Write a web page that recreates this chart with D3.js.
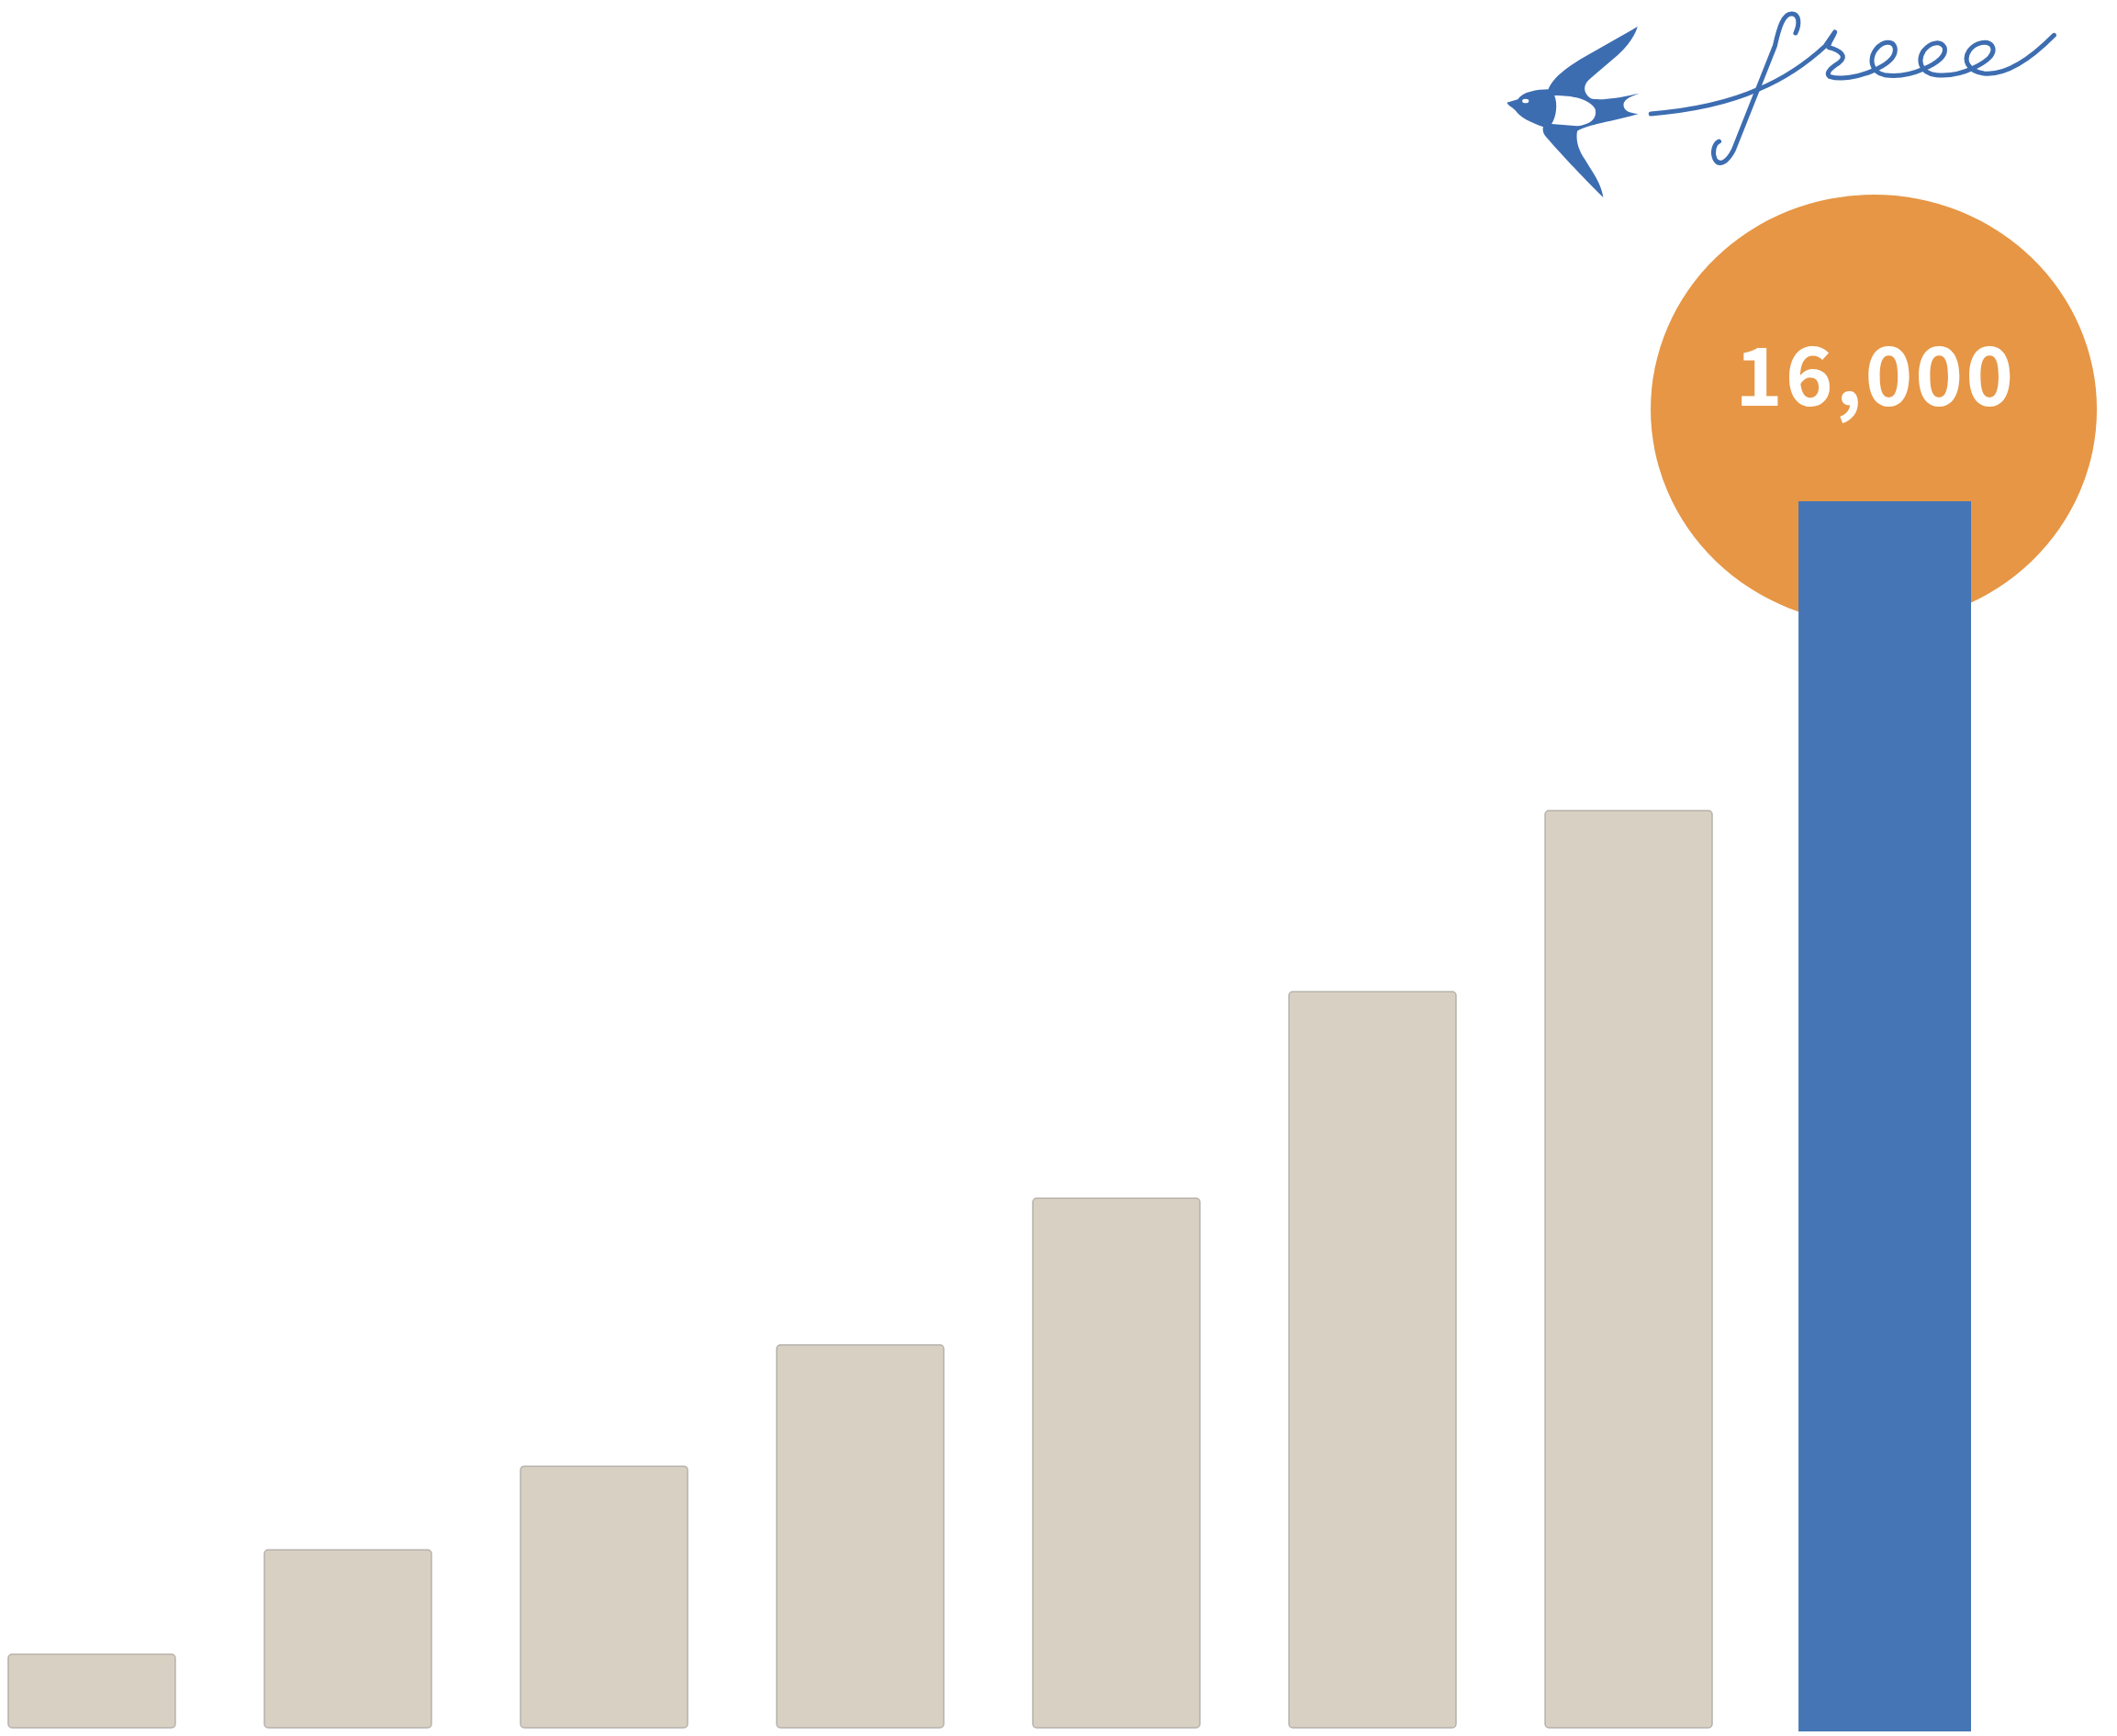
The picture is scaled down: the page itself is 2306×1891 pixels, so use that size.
<!DOCTYPE html>
<html>
<head>
<meta charset="utf-8">
<script src="https://cdn.jsdelivr.net/npm/d3@7"></script>
<style>
  html, body { margin: 0; padding: 0; background: #fff; }
  svg { display: block; }
</style>
</head>
<body>
<svg class="chart"></svg>
<script>
// DATA /////////////////////////////////////////
const categories = ["1", "2", "3", "4", "5", "6", "7", "8"];
const values = [980, 2340, 3430, 5010, 6920, 9610, 11970, 16000];
const highlightLabel = "16,000";

// DEFINITIONS //////////////////////////////////
const width = 2306;
const height = 1891;

const svg = d3.select(".chart").attr("width", width).attr("height", height);

const x = d3
  .scaleBand()
  .domain(categories)
  .range([9, 2144])
  .paddingInner(0.348)
  .paddingOuter(0);

const y = d3.scaleLinear().domain([0, 16000]).range([1884, 546]);

const last = categories[categories.length - 1];

// HIGHLIGHT BUBBLE (behind the last bar) ///////
const cx = x(last) + x.bandwidth() / 2 - 12;
const cy = y(values[values.length - 1]) - 100;

svg
  .append("ellipse")
  .attr("cx", cx)
  .attr("cy", cy)
  .attr("rx", 243)
  .attr("ry", 234)
  .attr("fill", "#E69645");

// BARS /////////////////////////////////////////
const data = categories.map((c, i) => ({ cat: c, value: values[i], hi: c === last }));

// grey bars with small rounded corners
svg
  .selectAll(".bar")
  .data(data.filter((d) => !d.hi))
  .join("rect")
  .attr("class", "bar")
  .attr("x", (d) => x(d.cat))
  .attr("y", (d) => y(d.value))
  .attr("width", x.bandwidth())
  .attr("height", (d) => y(0) - 2 - y(d.value))
  .attr("rx", 4)
  .attr("fill", "#D8D1C3")
  .attr("stroke", "#B5B1AB")
  .attr("stroke-width", 1.5);

// the highlighted bar, a bit wider and square
svg
  .selectAll(".bar-hi")
  .data(data.filter((d) => d.hi))
  .join("rect")
  .attr("class", "bar-hi")
  .attr("x", (d) => x(d.cat) - 3)
  .attr("y", (d) => y(d.value))
  .attr("width", x.bandwidth() + 6)
  .attr("height", (d) => y(0) + 2 - y(d.value))
  .attr("fill", "#4575B5");

svg
  .append("text")
  .attr("x", cx + 2)
  .attr("y", cy - 4)
  .attr("text-anchor", "middle")
  .attr("fill", "#fff")
  .style("font-family", "'Noto Sans CJK JP', 'Noto Sans', sans-serif")
  .style("font-weight", 700)
  .style("font-size", "88px")
  .style("letter-spacing", "3px")
  .text(highlightLabel);

// LOGO (bird + "free") /////////////////////////
const logo = svg
  .append("g")
  .attr("transform", "translate(1600, 0) scale(0.4505, 0.3333)");

const blue = "#3D6DB1";

logo
  .append("path")
  .attr("fill", blue)
  .attr(
    "d",
    "M92,335 L118,325 C130,300 165,292 192,292 C205,250 240,215 300,170 L408,87 " +
      "C400,120 385,150 360,180 L295,255 C275,275 275,305 295,322 " +
      "C320,330 370,318 412,305 C385,318 370,330 375,350 C378,365 395,370 410,372 " +
      "C380,385 340,395 310,405 C290,412 270,420 262,428 C258,460 265,490 280,520 " +
      "C300,565 320,600 325,645 C290,600 220,500 185,445 C178,432 178,420 180,415 " +
      "C150,400 125,385 112,360 C105,350 95,345 92,335 Z"
  );

logo
  .append("path")
  .attr("fill", "#fff")
  .attr("d", "M207,312 C250,312 290,322 305,355 C312,385 295,408 262,412 L200,405 C212,380 215,340 207,312 Z");

logo.append("ellipse").attr("cx", 137).attr("cy", 330).attr("rx", 8).attr("ry", 7).attr("fill", "#fff");

const script = [
  // swoosh, r and the three e's
  "M440,372 C530,362 620,340 700,292 C760,258 810,215 862,150 L885,105 " +
    "C880,125 868,140 870,155 C900,165 915,185 895,205 C875,222 862,238 872,250 " +
    "C900,262 940,252 975,232 C1010,212 1035,185 1030,155 C1025,130 1000,135 985,160 " +
    "C968,190 970,235 1005,245 C1040,252 1075,240 1100,225 C1135,205 1155,180 1150,155 " +
    "C1140,130 1115,140 1100,165 C1085,195 1090,240 1130,245 C1165,250 1200,235 1220,222 " +
    "C1255,200 1275,175 1265,150 C1255,130 1225,138 1210,165 C1195,195 1205,232 1245,240 " +
    "C1300,248 1360,190 1415,115",
  // f
  "M790,108 C800,80 800,45 780,45 C760,45 750,90 740,150 L640,490 " +
    "C625,530 605,545 595,520 C588,500 592,470 605,462",
];

logo
  .selectAll(".script")
  .data(script)
  .join("path")
  .attr("class", "script")
  .attr("d", (d) => d)
  .attr("fill", "none")
  .attr("stroke", blue)
  .attr("stroke-width", 5)
  .attr("vector-effect", "non-scaling-stroke")
  .attr("stroke-linecap", "round")
  .attr("stroke-linejoin", "round");
</script>
</body>
</html>
